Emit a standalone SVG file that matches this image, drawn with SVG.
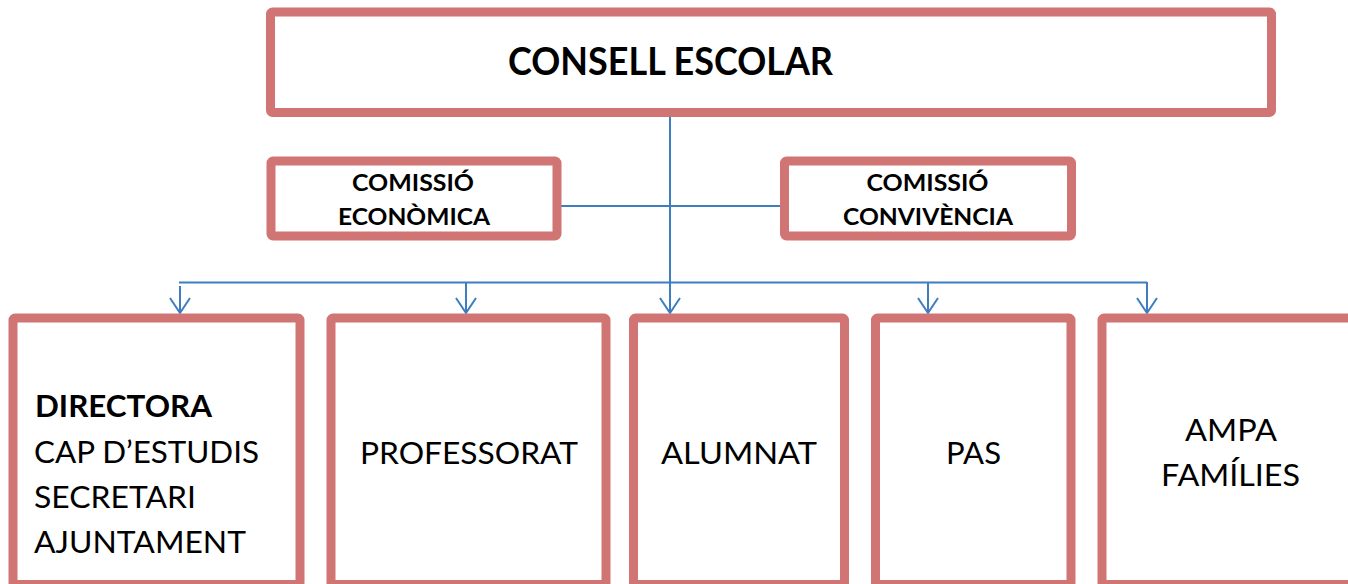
<svg xmlns="http://www.w3.org/2000/svg" width="1348" height="584" viewBox="0 0 1348 584">
<defs>
<style>
.box{fill:#fff;stroke:#D07573;stroke-width:9;stroke-linejoin:round}
.con{fill:none;stroke:#3D7DC0;stroke-width:2}
.t{font-family:Lato,"Open Sans","Liberation Sans",sans-serif;fill:#000}
.b{font-weight:bold}
</style>
<marker id="ah" markerUnits="userSpaceOnUse" markerWidth="40" markerHeight="40" refX="0" refY="0" orient="auto" viewBox="-20 -20 40 40" overflow="visible">
<path d="M-15,-10 L0,0 L-15,10" fill="none" stroke="#3D7DC0" stroke-width="2"/>
</marker>
</defs>
<rect width="1348" height="584" fill="#fff"/>
<g id="connectors">
<line class="con" x1="670" y1="117" x2="670" y2="313" marker-end="url(#ah)"/>
<line class="con" x1="561" y1="206" x2="781" y2="206"/>
<line class="con" x1="179" y1="282.5" x2="1147" y2="282.5"/>
<line class="con" x1="180" y1="286" x2="180" y2="313" marker-end="url(#ah)"/>
<line class="con" x1="466" y1="282" x2="466" y2="313" marker-end="url(#ah)"/>
<line class="con" x1="928" y1="282" x2="928" y2="313" marker-end="url(#ah)"/>
<line class="con" x1="1147" y1="282" x2="1147" y2="313" marker-end="url(#ah)"/>
</g>
<g id="consell">
<rect class="box" x="270.5" y="12" width="1001" height="100.5" rx="2"/>
<text class="t b" x="670.5" y="74.5" font-size="38" text-anchor="middle" textLength="325" lengthAdjust="spacingAndGlyphs">CONSELL ESCOLAR</text>
</g>
<g id="comissio-economica">
<rect class="box" x="271" y="161" width="286" height="75" rx="2"/>
<text class="t b" x="413" y="190.5" font-size="22.5" text-anchor="middle" textLength="122" lengthAdjust="spacingAndGlyphs">COMISSIÓ</text>
<text class="t b" x="414" y="225" font-size="22.5" text-anchor="middle" textLength="152" lengthAdjust="spacingAndGlyphs">ECONÒMICA</text>
</g>
<g id="comissio-convivencia">
<rect class="box" x="784.5" y="161" width="287" height="75" rx="2"/>
<text class="t b" x="927.5" y="190.5" font-size="22.5" text-anchor="middle" textLength="122" lengthAdjust="spacingAndGlyphs">COMISSIÓ</text>
<text class="t b" x="928" y="225" font-size="22.5" text-anchor="middle" textLength="170" lengthAdjust="spacingAndGlyphs">CONVIVÈNCIA</text>
</g>
<g id="direccio">
<rect class="box" x="13" y="318" width="287" height="266.5" rx="2"/>
<text class="t b" x="35" y="417.3" font-size="30.5" textLength="177" lengthAdjust="spacingAndGlyphs">DIRECTORA</text>
<text class="t" x="34" y="462.5" font-size="30.5" textLength="225" lengthAdjust="spacingAndGlyphs">CAP D’ESTUDIS</text>
<text class="t" x="34" y="508" font-size="30.5" textLength="162" lengthAdjust="spacingAndGlyphs">SECRETARI</text>
<text class="t" x="34" y="553.3" font-size="30.5" textLength="212" lengthAdjust="spacingAndGlyphs">AJUNTAMENT</text>
</g>
<g id="professorat">
<rect class="box" x="331" y="318" width="275" height="266.5" rx="2"/>
<text class="t" x="469" y="464" font-size="30.5" text-anchor="middle" textLength="218" lengthAdjust="spacingAndGlyphs">PROFESSORAT</text>
</g>
<g id="alumnat">
<rect class="box" x="633.5" y="318" width="211" height="266.5" rx="2"/>
<text class="t" x="739" y="464" font-size="30.5" text-anchor="middle" textLength="156" lengthAdjust="spacingAndGlyphs">ALUMNAT</text>
</g>
<g id="pas">
<rect class="box" x="875.5" y="318" width="195.5" height="266.5" rx="2"/>
<text class="t" x="973.5" y="464" font-size="30.5" text-anchor="middle" textLength="55" lengthAdjust="spacingAndGlyphs">PAS</text>
</g>
<g id="ampa">
<rect class="box" x="1102" y="318" width="270" height="266.5" rx="2"/>
<text class="t" x="1231" y="441" font-size="30.5" text-anchor="middle" textLength="92" lengthAdjust="spacingAndGlyphs">AMPA</text>
<text class="t" x="1230.5" y="486" font-size="30.5" text-anchor="middle" textLength="139" lengthAdjust="spacingAndGlyphs">FAMÍLIES</text>
</g>
</svg>
